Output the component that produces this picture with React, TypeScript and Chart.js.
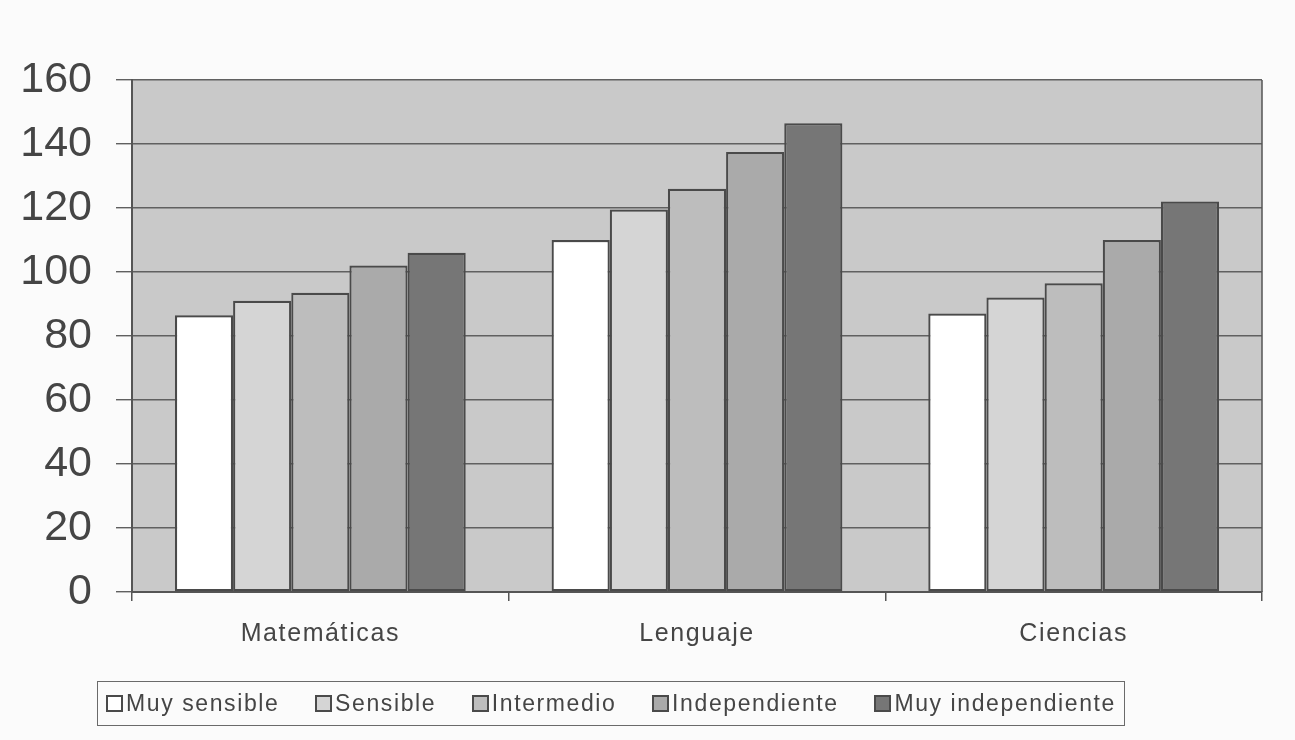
import React, { useEffect, useRef } from "react";
import { Chart, registerables } from "chart.js";

Chart.register(...registerables);

// Subjects on the x axis
const categories = ["Matemáticas", "Lenguaje", "Ciencias"];

// Cognitive-style groups (legend order)
const seriesNames = [
  "Muy sensible",
  "Sensible",
  "Intermedio",
  "Independiente",
  "Muy independiente",
];

// Scores per subject for each group
const muySensible = [86.5, 110, 87];
const sensible = [91, 119.5, 92];
const intermedio = [93.5, 126, 96.5];
const independiente = [102, 137.5, 110];
const muyIndependiente = [106, 146.5, 122];

const seriesValues = [muySensible, sensible, intermedio, independiente, muyIndependiente];
const seriesColors = ["#ffffff", "#d5d5d5", "#bdbdbd", "#aaaaaa", "#767676"];

// Value axis
const yMin = 0;
const yMax = 160;
const yStep = 20;

const W = 1295;
const H = 740;
const TEXT = "#454545";
const LINE = "#555555";
const SANS = "'Liberation Sans', Arial, Helvetica, sans-serif";

const plotFrame = {
  id: "plotFrame",
  beforeDraw(chart: any) {
    const { ctx, chartArea } = chart;
    ctx.save();
    ctx.fillStyle = "#c9c9c9";
    ctx.fillRect(chartArea.left, chartArea.top, chartArea.right - chartArea.left, chartArea.bottom - chartArea.top);
    ctx.restore();
  },
  afterDatasetsDraw(chart: any) {
    const { ctx, chartArea } = chart;
    ctx.save();
    ctx.strokeStyle = LINE;
    ctx.lineWidth = 1.5;
    ctx.beginPath();
    ctx.moveTo(chartArea.right, chartArea.top);
    ctx.lineTo(chartArea.right, chartArea.bottom);
    ctx.stroke();
    ctx.restore();
    // spaced lettering for the subject names drawn after this hook
    ctx.letterSpacing = "1.6px";
  },
  afterDraw(chart: any) {
    chart.ctx.letterSpacing = "0px";
  },
};

export default function App() {
  const canvasRef = useRef<HTMLCanvasElement | null>(null);

  useEffect(() => {
    const canvas = canvasRef.current;
    if (!canvas) return;
    const chart = new Chart(canvas, {
      type: "bar",
      data: {
        labels: categories,
        datasets: seriesNames.map((name, i) => ({
          label: name,
          data: seriesValues[i],
          backgroundColor: seriesColors[i],
          borderColor: "#4a4a4a",
          borderWidth: 2.2,
          borderSkipped: false,
          barPercentage: 1,
          categoryPercentage: 0.772,
        })),
      },
      plugins: [plotFrame],
      options: {
        responsive: false,
        animation: false,
        devicePixelRatio: 1,
        layout: { padding: { left: 0, right: 33, top: 80, bottom: 0 } },
        plugins: {
          legend: { display: false },
          tooltip: { enabled: false },
        },
        scales: {
          x: {
            offset: true,
            grid: {
              offset: true,
              drawOnChartArea: false,
              drawTicks: true,
              tickLength: 9,
              color: LINE,
              lineWidth: 1.5,
            },
            border: { display: true, color: LINE, width: 2 },
            ticks: {
              z: 1,
              color: TEXT,
              padding: 18,
              font: { family: SANS, size: 25 },
            },
            afterFit(scale: any) {
              scale.height = 148;
            },
          },
          y: {
            min: yMin,
            max: yMax,
            grid: {
              color: "#606060",
              lineWidth: 1.4,
              tickLength: 16,
              drawTicks: true,
            },
            border: { display: true, color: LINE, width: 2 },
            ticks: {
              stepSize: yStep,
              color: TEXT,
              padding: 24,
              font: { family: SANS, size: 43 },
            },
            afterFit(scale: any) {
              scale.width = 132;
            },
          },
        },
      },
    });
    return () => chart.destroy();
  }, []);

  return (
    <div
      style={{
        position: "absolute",
        left: 0,
        top: 0,
        width: W,
        height: H,
        background: "#fbfbfb",
        overflow: "hidden",
      }}
    >
      <canvas ref={canvasRef} width={W} height={H} style={{ display: "block" }} />
      <div
        style={{
          position: "absolute",
          left: 97,
          top: 681,
          width: 1028,
          height: 45,
          boxSizing: "border-box",
          border: "1.5px solid #6a6a6a",
          display: "flex",
          alignItems: "center",
          justifyContent: "space-between",
          padding: "0 8px",
          fontFamily: SANS,
          fontSize: 23,
          letterSpacing: "1.6px",
          color: TEXT,
          whiteSpace: "nowrap",
        }}
      >
        {seriesNames.map((name, i) => (
          <span key={name} style={{ display: "flex", alignItems: "center" }}>
            <span
              style={{
                display: "inline-block",
                width: 17,
                height: 17,
                boxSizing: "border-box",
                border: "2px solid #4a4a4a",
                background: seriesColors[i],
                marginRight: 3,
              }}
            />
            {name}
          </span>
        ))}
      </div>
    </div>
  );
}
